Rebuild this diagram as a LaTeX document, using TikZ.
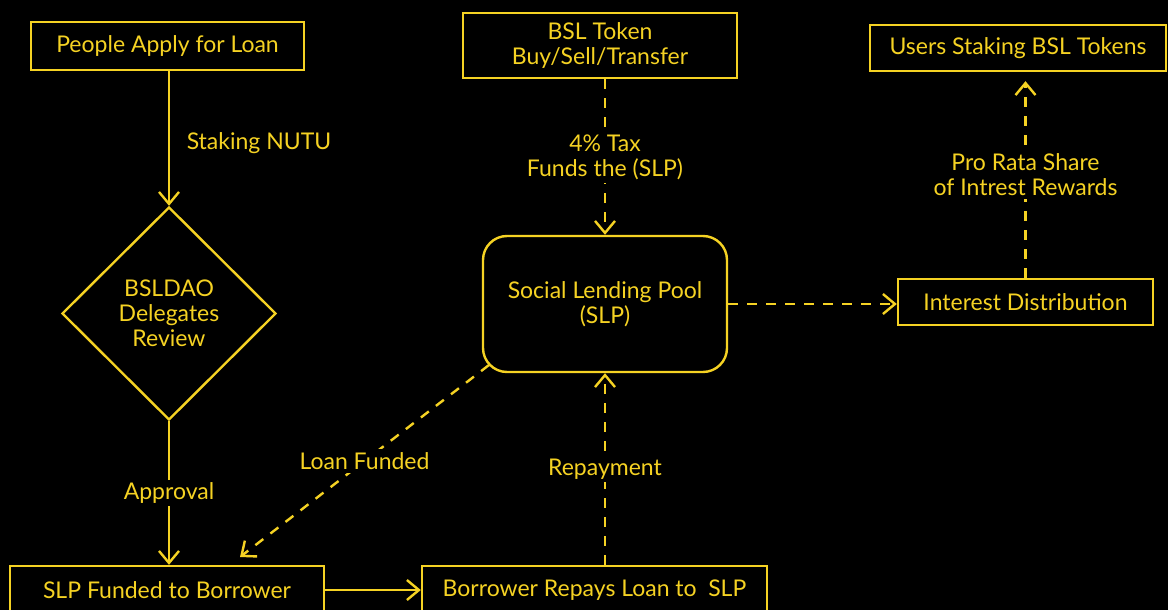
\documentclass[tikz,border=0pt]{standalone}
\usepackage{fontspec}
\setmainfont{Lato}
\usetikzlibrary{arrows.meta,shapes.geometric}
\definecolor{ylw}{RGB}{245,210,35}
\begin{document}
\begin{tikzpicture}[x=1pt,y=-1pt,
  every node/.style={text=ylw, font=\fontsize{23}{25}\selectfont, align=center},
  box/.style={draw=ylw, line width=2.4pt, inner sep=0pt},
  conn/.style={draw=ylw, line width=2.4pt, -{Straight Barb[length=12pt,width=20pt]}},
  dsh/.style={conn, dash pattern=on 10pt off 9pt},
  lbl/.style={fill=black, inner sep=3pt}]
\fill[black] (0,0) rectangle (1168,610);
\useasboundingbox (0,0) rectangle (1168,610);
\clip (0,0) rectangle (1168,610);

\node[box, minimum width=273pt, minimum height=48pt] (people) at (167.5,46) {People Apply for Loan};
\node[box, shape=diamond, minimum width=214pt, minimum height=213pt] (dia) at (169,313.5) {BSLDAO\\Delegates\\Review};
\node[box, minimum width=274pt, minimum height=65pt] (bsl) at (600,45.5) {BSL Token\\Buy/Sell/Transfer};
\node[box, minimum width=296pt, minimum height=46pt] (users) at (1018,48) {Users Staking BSL Tokens};
\node[box, minimum width=244pt, minimum height=136pt, rounded corners=24pt] (slp) at (605,304) {Social Lending Pool\\(SLP)};
\node[box, minimum width=255pt, minimum height=46pt] (interest) at (1025.5,302) {Interest Distribution};
\node[box, minimum width=314pt, minimum height=48pt] (funded) at (167,590) {SLP Funded to Borrower};
\node[box, minimum width=345pt, minimum height=48pt] (repays) at (594.5,590) {Borrower Repays Loan to\enspace SLP};

\coordinate (lfs) at (489,365);
\coordinate (lfe) at (240,557);

\draw[conn] (people.south -| dia.north) -- (dia.north);
\node (stk) at (259,143) {Staking NUTU};
\draw[conn] (dia.south) -- (dia.south |- funded.north) node[lbl, midway] {Approval};
\draw[dsh] (bsl.south -| slp.north) -- (slp.north) node[lbl, midway] {4\% Tax\\Funds the (SLP)};
\draw[dsh] (slp.east) -- (slp.east -| interest.west);
\draw[dsh, shorten >=9pt] (interest.north) -- (interest.north |- users.south) node[lbl, midway] {Pro Rata Share\\of Intrest Rewards};
\draw[dsh] (lfs) -- (lfe) node[lbl, midway] {Loan Funded};
\draw[conn] (funded.east) -- (repays.west);
\draw[dsh] (repays.north -| slp.south) -- (slp.south) node[lbl, midway] {Repayment};
\end{tikzpicture}
\end{document}
